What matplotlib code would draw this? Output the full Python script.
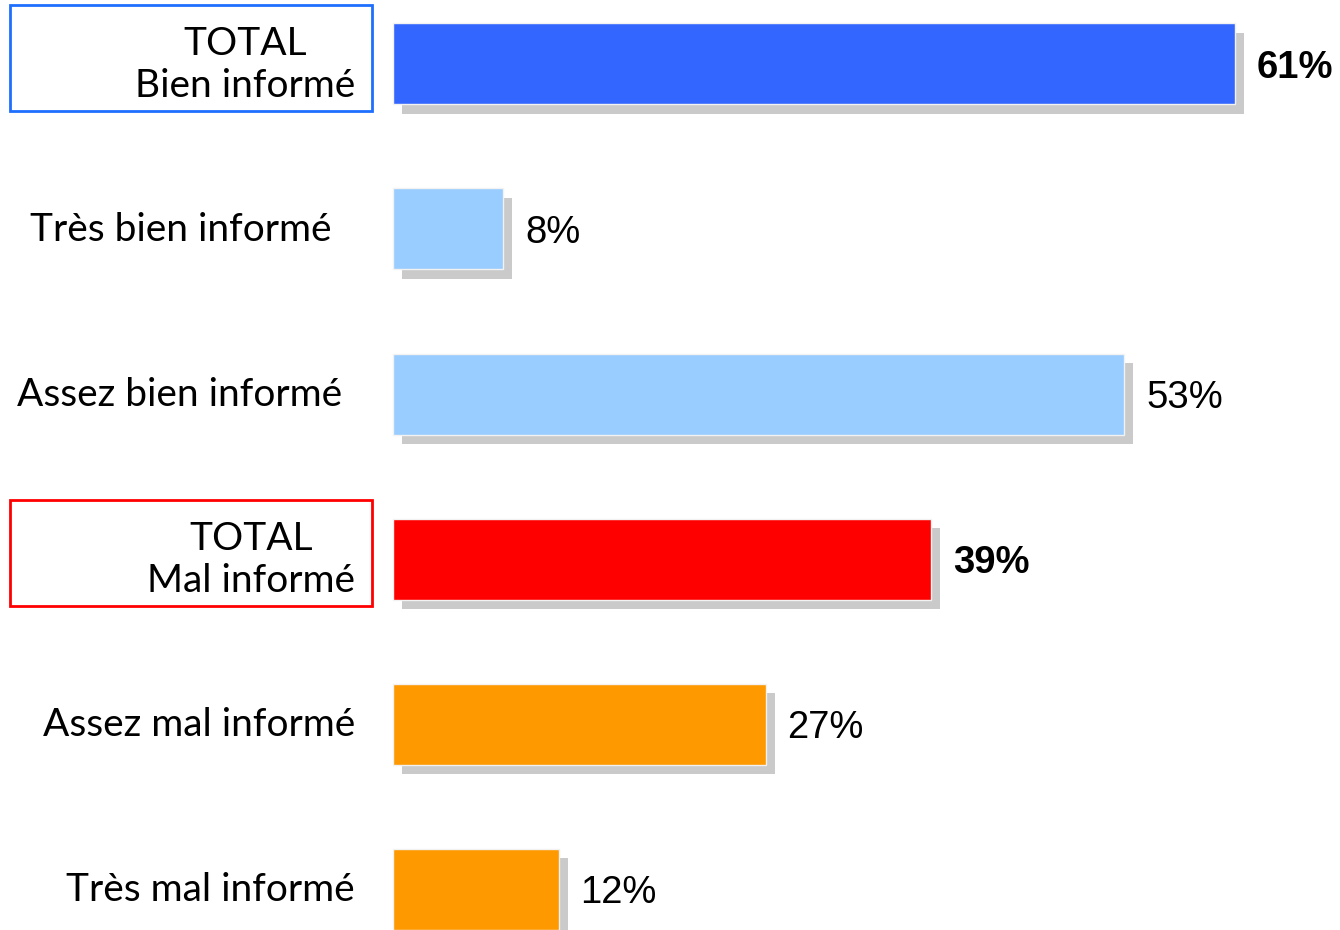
import matplotlib
matplotlib.use("Agg")
import matplotlib.pyplot as plt
import matplotlib.patheffects as pe
from matplotlib.patches import Rectangle

# ---- data ----
categories = ["TOTAL\nBien informé", "Très bien informé", "Assez bien informé",
              "TOTAL\nMal informé", "Assez mal informé", "Très mal informé"]
values = [61, 8, 53, 39, 27, 12]
value_labels = ["61%", "8%", "53%", "39%", "27%", "12%"]
is_total = [True, False, False, True, False, False]

# ---- styles / layout ----
bar_colors = ["#3366ff", "#99ccff", "#99ccff", "#ff0000", "#ff9900", "#ff9900"]
box_colors = {0: "#1f6fff", 3: "#ff0000"}
label_right_px = [355, 332, 342, 355, 355, 355]   # right edge of label (pixels)
W, H, DPI = 1340, 930, 100
bar_left_px, px_per_unit = 393, 13.80
row0_px, row_step_px, bar_h_px = 64, 165, 81

fig = plt.figure(figsize=(W / DPI, H / DPI), dpi=DPI)
ax = fig.add_axes([0, 0, 1, 1])
ax.set_xlim(-bar_left_px / px_per_unit, (W - bar_left_px) / px_per_unit)
ax.set_ylim((H - row0_px) / row_step_px, -row0_px / row_step_px)
ax.axis("off")

ypos = list(range(len(categories)))
shadow = [pe.SimplePatchShadow(offset=(6.5, -6.5), shadow_rgbFace="#cacaca", alpha=1.0), pe.Normal()]
bars = ax.barh(ypos, values, height=bar_h_px / row_step_px, left=0,
               color=bar_colors, edgecolor="#f2f2f2", linewidth=1.0)
for b in bars:
    b.set_path_effects(shadow)

label_font = ["Lato", "DejaVu Sans"]
for i, (cat, v, vl, tot) in enumerate(zip(categories, values, value_labels, is_total)):
    ax.annotate(cat, xy=(0, i), xytext=(label_right_px[i] - bar_left_px, -1),
                textcoords="offset pixels", ha="right", va="center",
                multialignment="center", fontsize=28, family=label_font,
                linespacing=1.2, color="black")
    ax.annotate(vl, xy=(v, i), xytext=(22, -4), textcoords="offset pixels",
                ha="left", va="center", fontsize=27.5, family="Liberation Sans",
                fontweight="bold" if tot else "normal", color="black")

# boxes around total labels (figure pixel coordinates)
box_px = {0: (10, 5, 362, 106), 3: (10, 500, 362, 106)}
for i, (x0, y0, w, h) in box_px.items():
    fig.patches.append(Rectangle((x0 / W, 1 - (y0 + h) / H), w / W, h / H,
                                 transform=fig.transFigure, fill=False,
                                 edgecolor=box_colors[i], linewidth=2))

fig.savefig("out.png", dpi=DPI, facecolor="white")
